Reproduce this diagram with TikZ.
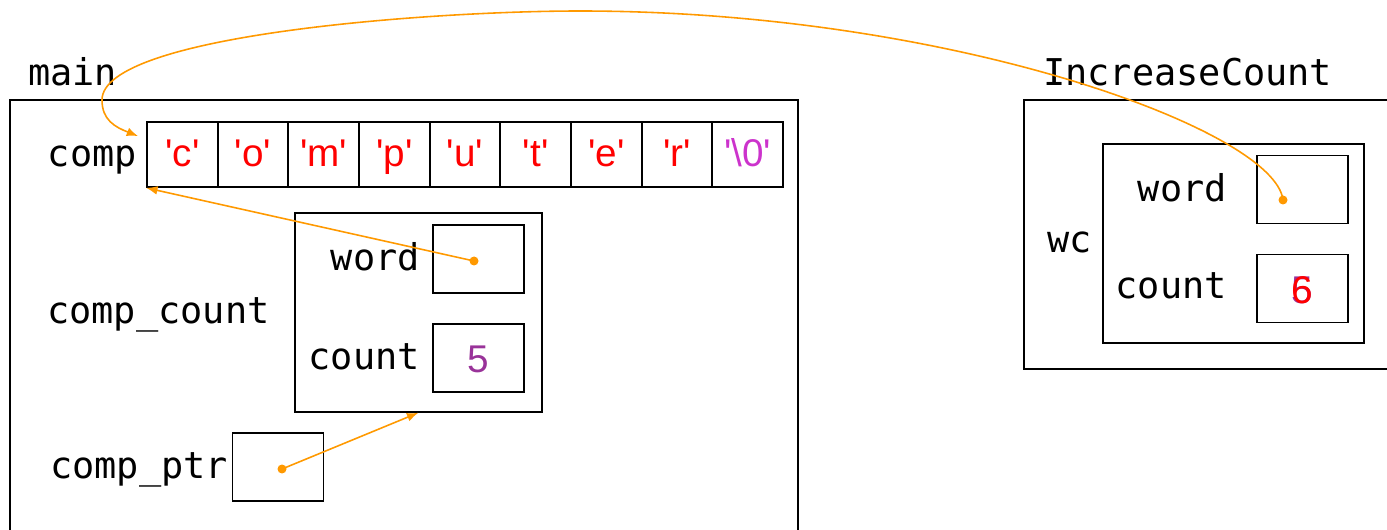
\documentclass[tikz,border=0pt]{standalone}
\usepackage{fontspec}
\usetikzlibrary{arrows.meta, positioning, calc, math}
\newfontfamily\codefont{DejaVu Sans Mono}
\newfontfamily\valfont{Liberation Sans}
\definecolor{ptrorange}{HTML}{FF9900}
\definecolor{charred}{HTML}{FF0000}
\definecolor{nulpurple}{HTML}{CC33CC}
\definecolor{intpurple}{HTML}{993399}

\begin{document}
\begin{tikzpicture}[x=0.02cm, y=-0.02cm, >={Latex[length=6.5pt,width=5pt]}]
			\tikzmath{
				\px    = 0.02;  %cm per pixel
				\cellW = 70.67; %char cell width
				\cellH = 65;    %char cell height
				\boxW  = 91;    %value box width
				\boxH  = 68;    %value box height
			}
			\tikzstyle{Frame} = [draw, line width=1pt, anchor=north west, inner sep=0pt]
			\tikzstyle{Cell} = [
				draw, line width=1pt, inner sep=0pt,
				minimum width=\cellW*\px cm, minimum height=\cellH*\px cm,
				font=\valfont\fontsize{22}{26}\selectfont,
				text height=20pt, text depth=5.8pt
			]
			\tikzstyle{Box} = [
				draw, line width=1pt, inner sep=0pt,
				minimum width=\boxW*\px cm, minimum height=\boxH*\px cm,
				font=\valfont\fontsize{22}{26}\selectfont,
				text height=22pt, text depth=5pt
			]
			\tikzstyle{Label} = [inner sep=0pt, font=\codefont\fontsize{21}{25}\selectfont]
			\tikzstyle{Dot} = [circle, fill=ptrorange, inner sep=0pt, minimum size=0.18cm]
			\tikzstyle{Ptr} = [->, draw=ptrorange, line width=0.9pt]

			\useasboundingbox (0,0) rectangle (1387,530);
			\clip (0,0) rectangle (1387,530);

			% frame of main
			\node (mainFrame) [Frame, minimum width=788*\px cm, minimum height=460*\px cm] at (9,99) {};
			\node (mainLbl) [Label, anchor=base west] at (28,86) {main};

			% the char array comp
			\node (compLbl) [Label, anchor=base east] at (137,167) {comp};
			\foreach \c [count=\i] in {c,o,m,p,u,t,e,r}
				\node (comp\i) [Cell, text=charred] at ({147+\cellW*(\i-0.5)},154.5) {\textquotesingle\c\textquotesingle};
			\node (comp9) [Cell, text=nulpurple] at ({147+\cellW*8.5},154.5) {\textquotesingle\textbackslash0\textquotesingle};

			% the struct comp_count
			\node (ccLbl) [Label, anchor=base west] at (47,324) {comp\_count};
			\node (ccFrame) [Frame, minimum width=247*\px cm, minimum height=199*\px cm] at (294,212) {};
			\node (ccWord) [Box] at (478.5,259) {};
			\node (ccCount) [Box, text=intpurple] at (478.5,358) {5};
			\node (ccWordLbl) [Label, anchor=base east] at (420,271) {word};
			\node (ccCountLbl) [Label, anchor=base east] at (420,370) {count};

			% the pointer comp_ptr
			\node (ptrLbl) [Label, anchor=base west] at (50,479) {comp\_ptr};
			\node (ptrBox) [Box] at (278,467) {};

			% frame of IncreaseCount
			\node (incFrame) [Frame, minimum width=400*\px cm, minimum height=269*\px cm] at (1023,99) {};
			\node (incLbl) [Label, anchor=base west] at (1043,86) {IncreaseCount};
			\node (wcLbl) [Label, anchor=base west] at (1047,253) {wc};
			\node (wcFrame) [Frame, minimum width=261*\px cm, minimum height=199*\px cm] at (1102,143) {};
			\node (wcWord) [Box] at (1302.5,189.5) {};
			\node (wcCount) [Box, text=intpurple] at (1302.5,288.5) {5};
			\node (wcSix) [inner sep=0pt, anchor=base, text=charred, font=\valfont\fontsize{22}{26}\selectfont] at (wcCount.base) {6};
			\node (wcWordLbl) [Label, anchor=base east] at (1227,202) {word};
			\node (wcCountLbl) [Label, anchor=base east] at (1227,299) {count};

			% pointers
			\node (ccDot) [Dot] at (474,261) {};
			\node (ptrDot) [Dot] at (282,469) {};
			\node (wcDot) [Dot] at (1283,200) {};
			\coordinate (compTip) at ($(comp1.north west)+(-8,15)$);
			\draw [Ptr] (ccDot.center) -- (comp1.south west);
			\draw [Ptr] (ptrDot.center) -- (ccFrame.south);
			\draw [Ptr] (wcDot.center) .. controls (1275,130) and (950,11) .. (580,11)
				.. controls (430,11) and (102,35) .. (102,100)
				.. controls (102,120) and (115,127) .. (compTip);
\end{tikzpicture}
\end{document}
